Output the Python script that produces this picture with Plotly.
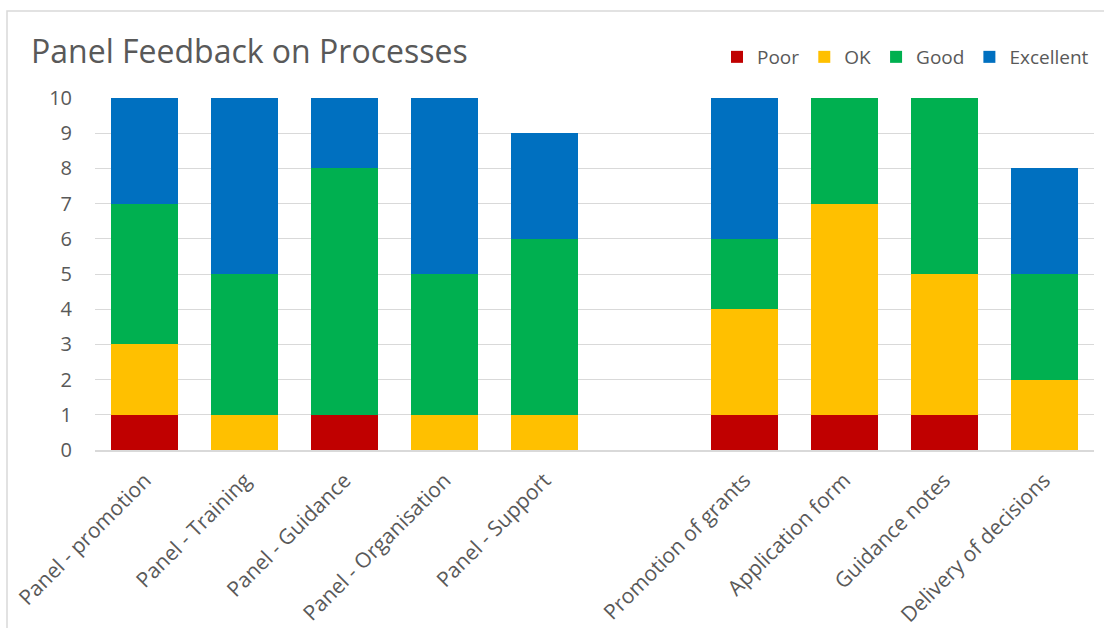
import plotly.graph_objects as go

categories = [
    "Panel - promotion", "Panel - Training", "Panel - Guidance",
    "Panel - Organisation", "Panel - Support", " ",
    "Promotion of grants", "Application form", "Guidance notes",
    "Delivery of decisions",
]
poor = [1, 0, 1, 0, 0, None, 1, 1, 1, 0]
ok = [2, 1, 0, 1, 1, None, 3, 6, 4, 2]
good = [4, 4, 7, 4, 5, None, 2, 3, 5, 3]
excellent = [3, 5, 2, 5, 3, None, 4, 0, 0, 3]

series = [
    ("Poor", poor, "#C00000"),
    ("OK", ok, "#FFC000"),
    ("Good", good, "#00B050"),
    ("Excellent", excellent, "#0070C0"),
]

FONT = "'Open Sans', sans-serif"
GREY = "#595959"

fig = go.Figure()
for name, vals, color in series:
    fig.add_trace(go.Bar(
        name=name, x=categories, y=vals,
        marker=dict(color=color, line=dict(width=0)),
    ))

fig.update_layout(
    barmode="stack",
    bargap=0.33,
    width=1104, height=628,
    margin=dict(l=95, r=10, t=98, b=178),
    paper_bgcolor="white",
    plot_bgcolor="white",
    font=dict(family=FONT, color=GREY, size=18),
    title=dict(
        text="Panel Feedback on Processes",
        x=31 / 1104, xanchor="left",
        y=1 - 52 / 628, yanchor="middle",
        font=dict(size=32, color=GREY, family=FONT),
    ),
    legend=dict(
        orientation="h",
        x=1.0, xanchor="right",
        y=1.0 + 41 / 352, yanchor="middle",
        font=dict(size=19, color=GREY),
        traceorder="normal",
        itemwidth=30,
        bgcolor="rgba(0,0,0,0)",
    ),
    xaxis=dict(
        type="category",
        categoryorder="array",
        categoryarray=categories,
        tickangle=-45,
        showline=True, linecolor="#D9D9D9", linewidth=1.5,
        ticks="", showgrid=False,
        tickfont=dict(size=21, color=GREY),
        ticklabelstandoff=8,
        automargin=False,
    ),
    yaxis=dict(
        range=[0, 10],
        dtick=1,
        showgrid=True, gridcolor="#D9D9D9", gridwidth=1,
        zeroline=False, showline=False, ticks="",
        tickfont=dict(size=20, color=GREY),
        ticklabelstandoff=22,
        automargin=False,
    ),
    shapes=[dict(
        type="rect", xref="paper", yref="paper",
        x0=(7 - 95) / 999, x1=1.2,
        y0=-0.7, y1=1 + (98 - 11) / 352,
        line=dict(color="#D9D9D9", width=1.5),
        fillcolor="rgba(0,0,0,0)", layer="below",
    )],
)

fig.write_html("out.html")
